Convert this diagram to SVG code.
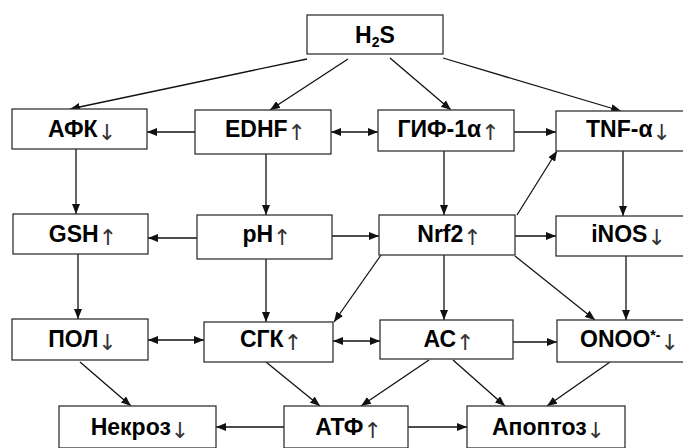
<svg xmlns="http://www.w3.org/2000/svg" width="683" height="448" viewBox="0 0 683 448">
<defs>
<marker id="ah" viewBox="0 0 10 8" refX="10" refY="4" markerWidth="10" markerHeight="8" markerUnits="userSpaceOnUse" orient="auto-start-reverse">
<path d="M0,0 L10,4 L0,8 z" fill="#111"/>
</marker>
</defs>
<style>
rect{fill:#fff;stroke:#333;stroke-width:1.3}
text{font-family:"Liberation Sans",Arial,sans-serif;font-weight:bold;font-size:23px;fill:#000;text-anchor:middle}
.ar{font-family:"DejaVu Sans",sans-serif;font-weight:normal;font-size:22px;fill:#333;letter-spacing:-5px}
#edges line{stroke:#111;stroke-width:1.3;marker-end:url(#ah)}
#edges line.bi{marker-start:url(#ah)}
</style>
<rect x="0" y="0" width="683" height="448" style="fill:#fff;stroke:none"/>
<g id="edges">
<line x1="307" y1="59" x2="70" y2="109"/>
<line x1="348" y1="59" x2="270" y2="110"/>
<line x1="390" y1="58" x2="451" y2="110"/>
<line x1="443" y1="58" x2="621" y2="111"/>
<line x1="195" y1="132" x2="147" y2="132"/>
<line class="bi" x1="331" y1="132" x2="378" y2="132"/>
<line x1="514" y1="132" x2="556" y2="132"/>
<line x1="76" y1="149" x2="76" y2="214"/>
<line x1="266" y1="154" x2="266" y2="215"/>
<line x1="444" y1="151" x2="444" y2="215"/>
<line x1="623" y1="151" x2="623" y2="216"/>
<line x1="517" y1="215" x2="557" y2="151"/>
<line x1="197" y1="238" x2="148" y2="238"/>
<line x1="332" y1="236" x2="379" y2="236"/>
<line x1="515" y1="236" x2="556" y2="236"/>
<line x1="78" y1="254" x2="78" y2="319"/>
<line x1="266" y1="259" x2="266" y2="322"/>
<line x1="381" y1="255" x2="334" y2="322"/>
<line x1="444" y1="255" x2="444" y2="320"/>
<line x1="515" y1="256" x2="595" y2="320"/>
<line x1="626" y1="256" x2="626" y2="320"/>
<line class="bi" x1="148" y1="340" x2="204" y2="340"/>
<line class="bi" x1="333" y1="341" x2="380" y2="341"/>
<line x1="513" y1="342" x2="557" y2="342"/>
<line x1="80" y1="362" x2="131" y2="406"/>
<line x1="266" y1="362" x2="320" y2="406"/>
<line x1="429" y1="360" x2="361" y2="406"/>
<line x1="453" y1="360" x2="505" y2="406"/>
<line x1="610" y1="362" x2="547" y2="406"/>
<line x1="284" y1="427" x2="216" y2="427"/>
<line x1="408" y1="427" x2="467" y2="427"/>
</g>
<g id="h2s"><rect x="307" y="15" width="136" height="39"/><text x="375" y="43">H<tspan font-size="14" dy="4">2</tspan><tspan dy="-4">S</tspan></text></g>
<g id="afk"><rect x="12" y="109" width="135" height="40"/><text x="79.5" y="137">АФК<tspan class="ar" dy="3">↓</tspan></text></g>
<g id="edhf"><rect x="195" y="110" width="136" height="44"/><text x="263" y="137">EDHF<tspan class="ar" dy="3">↑</tspan></text></g>
<g id="gif"><rect x="378" y="110" width="136" height="41"/><text x="446" y="137">ГИФ-1α<tspan class="ar" dy="3">↑</tspan></text></g>
<g id="tnf"><rect x="556" y="111" width="140" height="40"/><text x="626" y="137">TNF-α<tspan class="ar" dy="3">↓</tspan></text></g>
<g id="gsh"><rect x="13" y="214" width="135" height="40"/><text x="80.5" y="242">GSH<tspan class="ar" dy="3">↑</tspan></text></g>
<g id="ph"><rect x="197" y="215" width="135" height="44"/><text x="264.5" y="242">pH<tspan class="ar" dy="3">↑</tspan></text></g>
<g id="nrf2"><rect x="379" y="215" width="136" height="40"/><text x="447" y="242">Nrf2<tspan class="ar" dy="3">↑</tspan></text></g>
<g id="inos"><rect x="556" y="216" width="140" height="40"/><text x="626" y="242">iNOS<tspan class="ar" dy="3">↓</tspan></text></g>
<g id="pol"><rect x="12" y="319" width="136" height="41"/><text x="80" y="347">ПОЛ<tspan class="ar" dy="3">↓</tspan></text></g>
<g id="sgk"><rect x="204" y="322" width="129" height="40"/><text x="268.5" y="347">СГК<tspan class="ar" dy="3">↑</tspan></text></g>
<g id="as"><rect x="380" y="320" width="133" height="39"/><text x="446.5" y="347">АС<tspan class="ar" dy="3">↑</tspan></text></g>
<g id="onoo"><rect x="557" y="320" width="140" height="42"/><text x="627" y="347">ONOO<tspan font-size="14" dy="-7">*-</tspan><tspan class="ar" dy="10">↓</tspan></text></g>
<g id="nekroz"><rect x="59" y="406" width="157" height="42"/><text x="137.5" y="435">Некроз<tspan class="ar" dy="3">↓</tspan></text></g>
<g id="atf"><rect x="284" y="406" width="124" height="42"/><text x="346" y="435">АТФ<tspan class="ar" dy="3">↑</tspan></text></g>
<g id="apoptoz"><rect x="467" y="406" width="158" height="42"/><text x="546" y="435">Апоптоз<tspan class="ar" dy="3">↓</tspan></text></g>
</svg>
